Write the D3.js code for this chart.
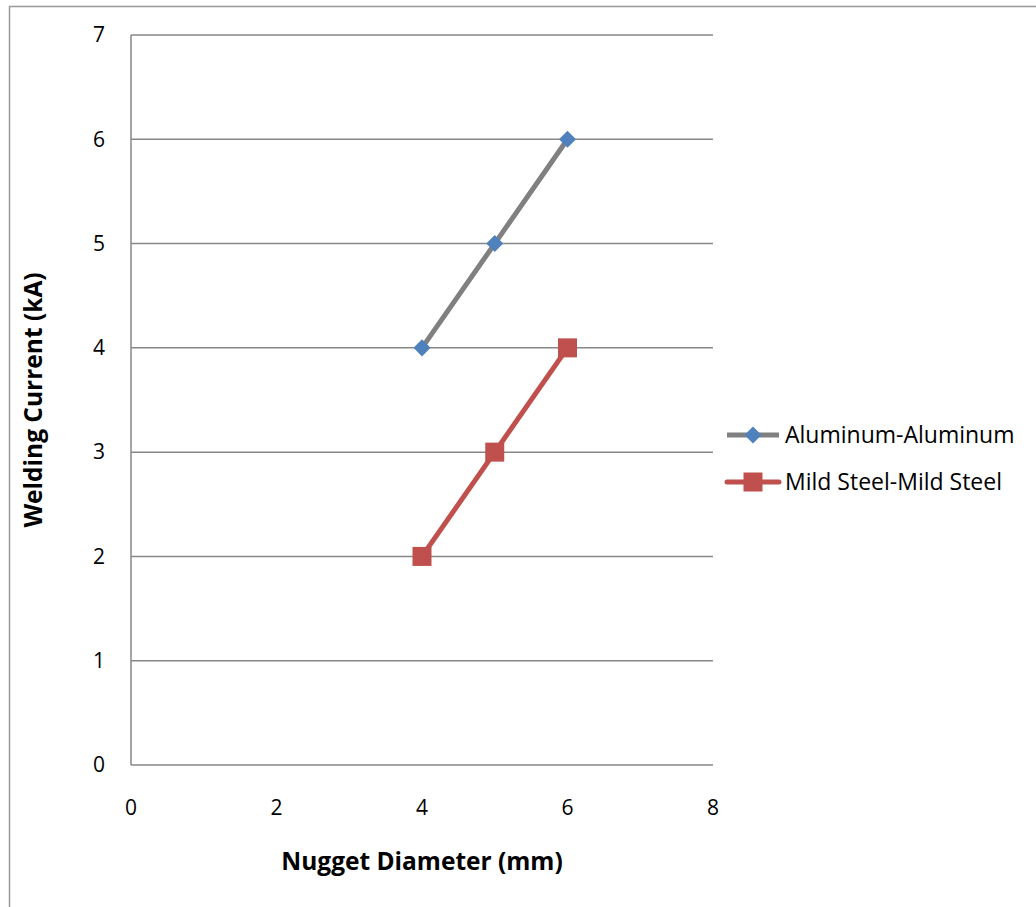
<!DOCTYPE html>
<html>
<head>
<meta charset="utf-8">
<script src="https://cdn.jsdelivr.net/npm/d3@7"></script>
<style>
  body { margin: 0; background: #fff; }
  text { font-family: "Open Sans", "Noto Sans", sans-serif; fill: #000; }
</style>
</head>
<body>
<div id="chart"></div>
<script>
// Data
var diameters = [4, 5, 6];
var aluminumCurrent = [4, 5, 6];
var steelCurrent = [2, 3, 4];
var xTicks = [0, 2, 4, 6, 8];
var yTicks = [0, 1, 2, 3, 4, 5, 6, 7];
var seriesNames = ["Aluminum-Aluminum", "Mild Steel-Mild Steel"];

var svgWidth = 1036;
var svgHeight = 907;

var margin = { top: 35, right: 323, bottom: 142, left: 131 };
var width = svgWidth - margin.left - margin.right;
var height = svgHeight - margin.top - margin.bottom;

var svg = d3.select("#chart")
    .append("svg")
    .attr("width", svgWidth)
    .attr("height", svgHeight);

// outer chart border
svg.append("rect")
    .attr("x", 9.5)
    .attr("y", 6.5)
    .attr("width", 1100)
    .attr("height", 1000)
    .attr("fill", "none")
    .attr("stroke", "#999")
    .attr("stroke-width", 1.5);

var chartGroup = svg.append("g")
    .attr("transform", `translate(${margin.left}, ${margin.top})`);

var x = d3.scaleLinear().domain([0, 8]).range([0, width]);
var y = d3.scaleLinear().domain([0, 7]).range([height, 0]);

// gridlines
chartGroup.selectAll(".grid")
    .data(yTicks)
    .enter()
    .append("line")
    .attr("x1", 0)
    .attr("x2", width)
    .attr("y1", d => y(d))
    .attr("y2", d => y(d))
    .attr("stroke", "#878787")
    .attr("stroke-width", 1.5);

// left axis line
chartGroup.append("line")
    .attr("x1", 0).attr("x2", 0)
    .attr("y1", 0).attr("y2", height)
    .attr("stroke", "#878787")
    .attr("stroke-width", 1.5);

// tick labels
chartGroup.selectAll(".ylab")
    .data(yTicks)
    .enter()
    .append("text")
    .attr("x", -26)
    .attr("y", d => y(d))
    .attr("dy", "0.35em")
    .attr("text-anchor", "end")
    .attr("font-size", "21px")
    .text(d => d);

chartGroup.selectAll(".xlab")
    .data(xTicks)
    .enter()
    .append("text")
    .attr("x", d => x(d))
    .attr("y", height + 43)
    .attr("dy", "0.35em")
    .attr("text-anchor", "middle")
    .attr("font-size", "21px")
    .text(d => d);

// axis titles
chartGroup.append("text")
    .attr("transform", `translate(${-98}, ${height / 2}) rotate(-90)`)
    .attr("text-anchor", "middle")
    .attr("dy", "0.35em")
    .attr("font-size", "24.5px")
    .attr("font-weight", "bold")
    .text("Welding Current (kA)");

chartGroup.append("text")
    .attr("x", x(4))
    .attr("y", height + 96)
    .attr("dy", "0.35em")
    .attr("text-anchor", "middle")
    .attr("font-size", "24.5px")
    .attr("font-weight", "bold")
    .text("Nugget Diameter (mm)");

var line = d3.line()
    .x(d => x(d[0]))
    .y(d => y(d[1]));

var alData = diameters.map((d, i) => [d, aluminumCurrent[i]]);
var msData = diameters.map((d, i) => [d, steelCurrent[i]]);

var alLine = "#808080", alMark = "#4f81bd";
var msColor = "#c0504d";

chartGroup.append("path")
    .datum(alData)
    .attr("d", line)
    .attr("fill", "none")
    .attr("stroke", alLine)
    .attr("stroke-width", 5);

chartGroup.append("path")
    .datum(msData)
    .attr("d", line)
    .attr("fill", "none")
    .attr("stroke", msColor)
    .attr("stroke-width", 5);

var diamond = d3.symbol().type(d3.symbolDiamond2).size(185);

chartGroup.selectAll(".alpt")
    .data(alData)
    .enter()
    .append("path")
    .attr("d", diamond)
    .attr("transform", d => `translate(${x(d[0])}, ${y(d[1])})`)
    .attr("fill", alMark);

chartGroup.selectAll(".mspt")
    .data(msData)
    .enter()
    .append("rect")
    .attr("x", d => x(d[0]) - 9.5)
    .attr("y", d => y(d[1]) - 9.5)
    .attr("width", 19)
    .attr("height", 19)
    .attr("fill", msColor);

// legend
var legend = svg.append("g").attr("transform", "translate(727, 0)");
var legendY = [435, 482];

legend.append("line")
    .attr("x1", 0).attr("x2", 52)
    .attr("y1", legendY[0]).attr("y2", legendY[0])
    .attr("stroke", alLine).attr("stroke-width", 5);
legend.append("path")
    .attr("d", diamond)
    .attr("transform", `translate(26, ${legendY[0]})`)
    .attr("fill", alMark);

legend.append("line")
    .attr("x1", 0).attr("x2", 52)
    .attr("y1", legendY[1]).attr("y2", legendY[1])
    .attr("stroke", msColor).attr("stroke-width", 5)
    .attr("stroke-linecap", "round");
legend.append("rect")
    .attr("x", 26 - 9.5).attr("y", legendY[1] - 9.5)
    .attr("width", 19).attr("height", 19)
    .attr("fill", msColor);

legend.selectAll(".ltext")
    .data(seriesNames)
    .enter()
    .append("text")
    .attr("x", 58)
    .attr("y", (d, i) => legendY[i])
    .attr("dy", "0.35em")
    .attr("font-size", "23px")
    .text(d => d);
</script>
</body>
</html>
